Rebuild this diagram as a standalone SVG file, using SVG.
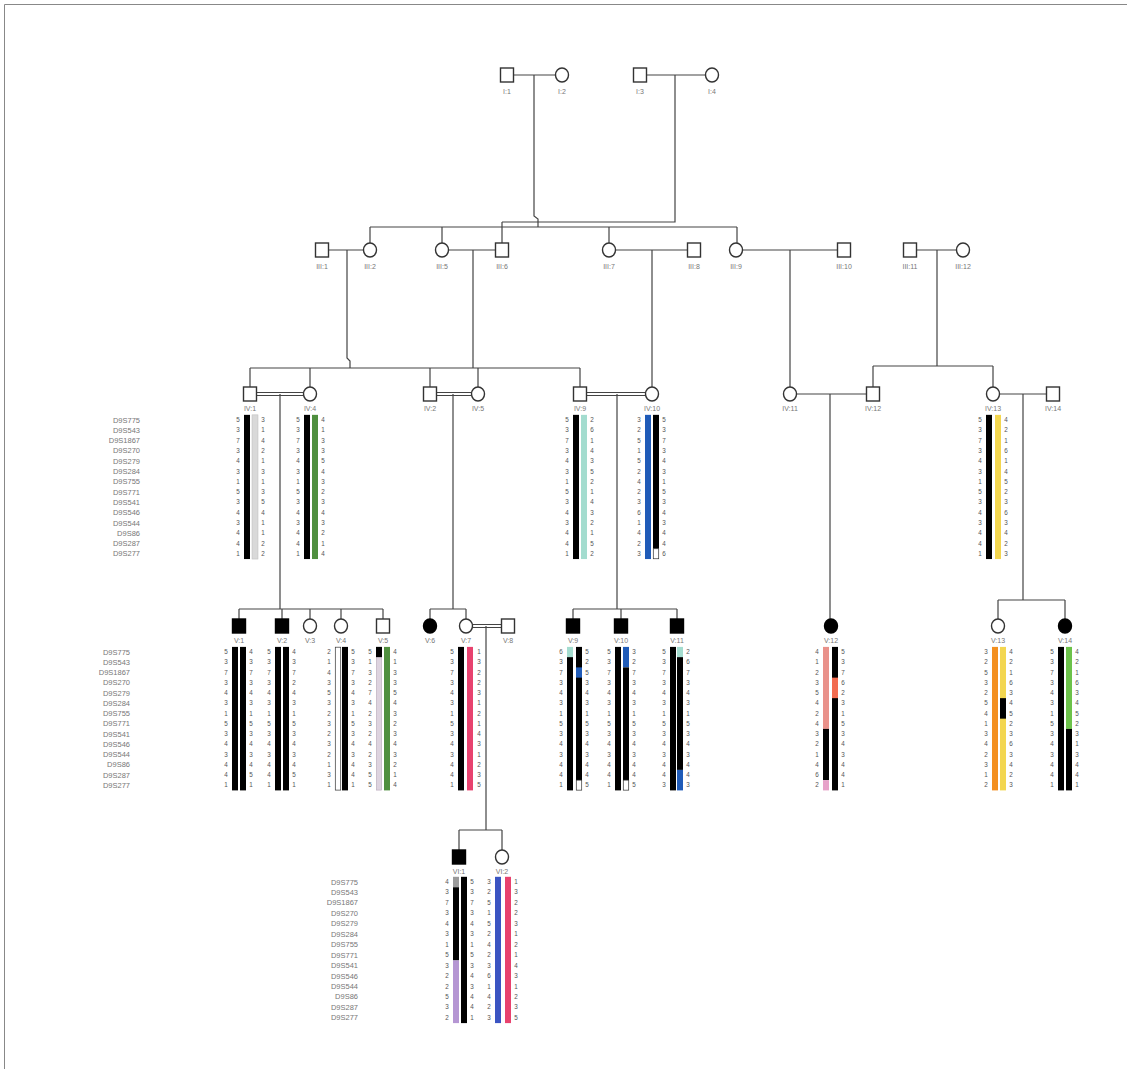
<svg xmlns="http://www.w3.org/2000/svg" width="1131" height="1073" viewBox="0 0 1131 1073">
<style>
.ln{stroke:#444;stroke-width:1.2;fill:none}
.fr{stroke:#888;stroke-width:1;fill:none}
.sym{fill:#fff;stroke:#333;stroke-width:1.4}
.aff{fill:#000;stroke:#000;stroke-width:1.4}
.lb{font-family:"Liberation Sans",Arial,sans-serif;font-size:7px;fill:#777;text-anchor:middle}
.n{font-family:"Liberation Sans",Arial,sans-serif;font-size:6.3px;fill:#555;text-anchor:middle}
.mk{font-family:"Liberation Sans",Arial,sans-serif;font-size:7.5px;fill:#777;text-anchor:end}
.k{fill:#000}
.gy{fill:#d9d9d9;stroke:#bbb;stroke-width:0.5}
.gn{fill:#4f8f3f}
.cy{fill:#a3dccf}
.bl{fill:#1f5bb8}
.yl{fill:#f3d64f}
.wh{fill:#fff;stroke:#333;stroke-width:0.7}
.pk{fill:#e8426e}
.sa{fill:#e9918a}
.or{fill:#f39021}
.lg{fill:#6cc24a}
.lv{fill:#ddd3df;stroke:#b9aabb;stroke-width:0.6}
.pu{fill:#b596d3}
.lp{fill:#e7a2c9}
.so{fill:#f26b4f}
.gr{fill:#9a9a9a}
.bv{fill:#3a54c2}
</style>
<path class="fr" d="M4.5 1069 V4.5 H1127"/>
<g id="connectors">
<path class="ln" d="M513.5 75 H555.5 M646.5 75 H705.5 M534 75 V216 L538 219 V227 M675 75 V222 H502 M370 227 H737 M370 227 V243 M442 227 V243 M502 222 V243 M609 227 V243 M737 227 V243"/>
<path class="ln" d="M328.5 250 H363.5 M347 250 V358 L350 361 V368 M448.5 250 H495.5 M473 250 V368 M615.5 250 H687.5 M652 250 V387 M742.5 250 H837.5 M790 250 V387 M916.5 250 H956.5 M937 250 V366 M873 366 H993 M873 366 V387 M993 366 V387"/>
<path class="ln" d="M250 368 H580 M250 368 V387 M310 368 V387 M430 368 V387 M478 368 V387 M580 368 V387"/>
<path class="ln" d="M256.5 392.5 H303.5 M256.5 395.5 H303.5 M280 394 V609 M436.5 392.5 H471.5 M436.5 395.5 H471.5 M453 394 V609 M586.5 392.5 H645.5 M586.5 395.5 H645.5 M617 394 V609 M796.5 394 H866.5 M830 394 V619 M999.5 394 H1046.5 M1023 394 V600 M998 600 H1065 M998 600 V619 M1065 600 V619"/>
<path class="ln" d="M239 609 H383 M239 609 V619 M282 609 V619 M310 609 V619 M341 609 V619 M383 609 V619 M430 609 H466 M430 609 V619 M466 609 V619 M573 609 H677 M573 609 V619 M621 609 V619 M677 609 V619"/>
<path class="ln" d="M472.5 624.5 H501.5 M472.5 627.5 H501.5 M486 626 V830 M459 830 H502 M459 830 V850 M502 830 V850"/>
</g>
<!-- Generation I -->
<g id="I1"><rect class="sym" x="500.5" y="68" width="13" height="14"/><text class="lb" x="507" y="94">I:1</text></g>
<g id="I2"><ellipse class="sym" cx="562" cy="75" rx="6.5" ry="7"/><text class="lb" x="562" y="94">I:2</text></g>
<g id="I3"><rect class="sym" x="633.5" y="68" width="13" height="14"/><text class="lb" x="640" y="94">I:3</text></g>
<g id="I4"><ellipse class="sym" cx="712" cy="75" rx="6.5" ry="7"/><text class="lb" x="712" y="94">I:4</text></g>
<!-- Generation III -->
<g id="III1"><rect class="sym" x="315.5" y="243" width="13" height="14"/><text class="lb" x="322" y="269">III:1</text></g>
<g id="III2"><ellipse class="sym" cx="370" cy="250" rx="6.5" ry="7"/><text class="lb" x="370" y="269">III:2</text></g>
<g id="III5"><ellipse class="sym" cx="442" cy="250" rx="6.5" ry="7"/><text class="lb" x="442" y="269">III:5</text></g>
<g id="III6"><rect class="sym" x="495.5" y="243" width="13" height="14"/><text class="lb" x="502" y="269">III:6</text></g>
<g id="III7"><ellipse class="sym" cx="609" cy="250" rx="6.5" ry="7"/><text class="lb" x="609" y="269">III:7</text></g>
<g id="III8"><rect class="sym" x="687.5" y="243" width="13" height="14"/><text class="lb" x="694" y="269">III:8</text></g>
<g id="III9"><ellipse class="sym" cx="736" cy="250" rx="6.5" ry="7"/><text class="lb" x="736" y="269">III:9</text></g>
<g id="III10"><rect class="sym" x="837.5" y="243" width="13" height="14"/><text class="lb" x="844" y="269">III:10</text></g>
<g id="III11"><rect class="sym" x="903.5" y="243" width="13" height="14"/><text class="lb" x="910" y="269">III:11</text></g>
<g id="III12"><ellipse class="sym" cx="963" cy="250" rx="6.5" ry="7"/><text class="lb" x="963" y="269">III:12</text></g>
<!-- Generation IV markers -->
<g id="markersIV"><text class="mk"><tspan x="140" y="422.5">D9S775</tspan><tspan x="140" y="432.8">D9S543</tspan><tspan x="140" y="443.1">D9S1867</tspan><tspan x="140" y="453.4">D9S270</tspan><tspan x="140" y="463.7">D9S279</tspan><tspan x="140" y="474">D9S284</tspan><tspan x="140" y="484.3">D9S755</tspan><tspan x="140" y="494.6">D9S771</tspan><tspan x="140" y="504.9">D9S541</tspan><tspan x="140" y="515.2">D9S546</tspan><tspan x="140" y="525.5">D9S544</tspan><tspan x="140" y="535.8">D9S86</tspan><tspan x="140" y="546.1">D9S287</tspan><tspan x="140" y="556.4">D9S277</tspan></text></g>
<!-- Generation IV -->
<g id="IV1"><rect class="sym" x="243.5" y="387" width="13" height="14"/><text class="lb" x="250" y="411">IV:1</text>
<rect class="k" x="244" y="414.85" width="6" height="144.2"/><rect class="gy" x="252" y="414.85" width="6" height="144.2"/>
<text class="n" x="238 238 238 238 238 238 238 238 238 238 238 238 238 238" y="422 432.3 442.6 452.9 463.2 473.5 483.8 494.1 504.4 514.7 525 535.3 545.6 555.9">53734315343441</text>
<text class="n" x="263 263 263 263 263 263 263 263 263 263 263 263 263 263" y="422 432.3 442.6 452.9 463.2 473.5 483.8 494.1 504.4 514.7 525 535.3 545.6 555.9">31421313541122</text></g>
<g id="IV4"><ellipse class="sym" cx="310" cy="394" rx="6.5" ry="7"/><text class="lb" x="310" y="411">IV:4</text>
<rect class="k" x="304" y="414.85" width="6" height="144.2"/><rect class="gn" x="312" y="414.85" width="6" height="144.2"/>
<text class="n" x="298 298 298 298 298 298 298 298 298 298 298 298 298 298" y="422 432.3 442.6 452.9 463.2 473.5 483.8 494.1 504.4 514.7 525 535.3 545.6 555.9">53734315343441</text>
<text class="n" x="323 323 323 323 323 323 323 323 323 323 323 323 323 323" y="422 432.3 442.6 452.9 463.2 473.5 483.8 494.1 504.4 514.7 525 535.3 545.6 555.9">41335432343214</text></g>
<g id="IV2"><rect class="sym" x="423.5" y="387" width="13" height="14"/><text class="lb" x="430" y="411">IV:2</text></g>
<g id="IV5"><ellipse class="sym" cx="478" cy="394" rx="6.5" ry="7"/><text class="lb" x="478" y="411">IV:5</text></g>
<g id="IV9"><rect class="sym" x="573.5" y="387" width="13" height="14"/><text class="lb" x="580" y="411">IV:9</text>
<rect class="k" x="573" y="414.85" width="6" height="144.2"/><rect class="cy" x="581" y="414.85" width="6" height="144.2"/>
<text class="n" x="567 567 567 567 567 567 567 567 567 567 567 567 567 567" y="422 432.3 442.6 452.9 463.2 473.5 483.8 494.1 504.4 514.7 525 535.3 545.6 555.9">53734315343441</text>
<text class="n" x="592 592 592 592 592 592 592 592 592 592 592 592 592 592" y="422 432.3 442.6 452.9 463.2 473.5 483.8 494.1 504.4 514.7 525 535.3 545.6 555.9">26143521432152</text></g>
<g id="IV10"><ellipse class="sym" cx="652" cy="394" rx="6.5" ry="7"/><text class="lb" x="652" y="411">IV:10</text>
<rect class="bl" x="645" y="414.85" width="6" height="144.2"/><rect class="k" x="653" y="414.85" width="6" height="133.9"/><rect class="wh" x="653.3" y="548.75" width="5.4" height="10"/>
<text class="n" x="639 639 639 639 639 639 639 639 639 639 639 639 639 639" y="422 432.3 442.6 452.9 463.2 473.5 483.8 494.1 504.4 514.7 525 535.3 545.6 555.9">32515242361423</text>
<text class="n" x="664 664 664 664 664 664 664 664 664 664 664 664 664 664" y="422 432.3 442.6 452.9 463.2 473.5 483.8 494.1 504.4 514.7 525 535.3 545.6 555.9">53734315343446</text></g>
<g id="IV11"><ellipse class="sym" cx="790" cy="394" rx="6.5" ry="7"/><text class="lb" x="790" y="411">IV:11</text></g>
<g id="IV12"><rect class="sym" x="866.5" y="387" width="13" height="14"/><text class="lb" x="873" y="411">IV:12</text></g>
<g id="IV13"><ellipse class="sym" cx="993" cy="394" rx="6.5" ry="7"/><text class="lb" x="993" y="411">IV:13</text>
<rect class="k" x="986" y="414.85" width="6" height="144.2"/><rect class="yl" x="995" y="414.85" width="6" height="144.2"/>
<text class="n" x="980 980 980 980 980 980 980 980 980 980 980 980 980 980" y="422 432.3 442.6 452.9 463.2 473.5 483.8 494.1 504.4 514.7 525 535.3 545.6 555.9">53734315343441</text>
<text class="n" x="1006 1006 1006 1006 1006 1006 1006 1006 1006 1006 1006 1006 1006 1006" y="422 432.3 442.6 452.9 463.2 473.5 483.8 494.1 504.4 514.7 525 535.3 545.6 555.9">42161452363423</text></g>
<g id="IV14"><rect class="sym" x="1046.5" y="387" width="13" height="14"/><text class="lb" x="1053" y="411">IV:14</text></g>
<!-- Generation V markers -->
<g id="markersV"><text class="mk"><tspan x="130" y="654.5">D9S775</tspan><tspan x="130" y="664.75">D9S543</tspan><tspan x="130" y="675">D9S1867</tspan><tspan x="130" y="685.25">D9S270</tspan><tspan x="130" y="695.5">D9S279</tspan><tspan x="130" y="705.75">D9S284</tspan><tspan x="130" y="716">D9S755</tspan><tspan x="130" y="726.25">D9S771</tspan><tspan x="130" y="736.5">D9S541</tspan><tspan x="130" y="746.75">D9S546</tspan><tspan x="130" y="757">D9S544</tspan><tspan x="130" y="767.25">D9S86</tspan><tspan x="130" y="777.5">D9S287</tspan><tspan x="130" y="787.75">D9S277</tspan></text></g>
<!-- Generation V -->
<g id="V1"><rect class="aff" x="232.5" y="619" width="13" height="14"/><text class="lb" x="239" y="643">V:1</text>
<rect class="k" x="232" y="646.9" width="6" height="143.5"/><rect class="k" x="240" y="646.9" width="6" height="143.5"/>
<text class="n" x="226 226 226 226 226 226 226 226 226 226 226 226 226 226" y="654 664.25 674.5 684.75 695 705.25 715.5 725.75 736 746.25 756.5 766.75 777 787.25">53734315343441</text>
<text class="n" x="251 251 251 251 251 251 251 251 251 251 251 251 251 251" y="654 664.25 674.5 684.75 695 705.25 715.5 725.75 736 746.25 756.5 766.75 777 787.25">43734315343451</text></g>
<g id="V2"><rect class="aff" x="275.5" y="619" width="13" height="14"/><text class="lb" x="282" y="643">V:2</text>
<rect class="k" x="275" y="646.9" width="6" height="143.5"/><rect class="k" x="283" y="646.9" width="6" height="143.5"/>
<text class="n" x="269 269 269 269 269 269 269 269 269 269 269 269 269 269" y="654 664.25 674.5 684.75 695 705.25 715.5 725.75 736 746.25 756.5 766.75 777 787.25">53734315343441</text>
<text class="n" x="294 294 294 294 294 294 294 294 294 294 294 294 294 294" y="654 664.25 674.5 684.75 695 705.25 715.5 725.75 736 746.25 756.5 766.75 777 787.25">43724315343451</text></g>
<g id="V3"><ellipse class="sym" cx="310" cy="626" rx="6.5" ry="7"/><text class="lb" x="310" y="643">V:3</text></g>
<g id="V4"><ellipse class="sym" cx="341" cy="626" rx="6.5" ry="7"/><text class="lb" x="341" y="643">V:4</text>
<rect class="wh" x="335.3" y="647.2" width="5.4" height="142.9"/><rect class="k" x="342" y="646.9" width="6" height="143.5"/>
<text class="n" x="329 329 329 329 329 329 329 329 329 329 329 329 329 329" y="654 664.25 674.5 684.75 695 705.25 715.5 725.75 736 746.25 756.5 766.75 777 787.25">21435323232131</text>
<text class="n" x="353 353 353 353 353 353 353 353 353 353 353 353 353 353" y="654 664.25 674.5 684.75 695 705.25 715.5 725.75 736 746.25 756.5 766.75 777 787.25">53734315343441</text></g>
<g id="V5"><rect class="sym" x="376.5" y="619" width="13" height="14"/><text class="lb" x="383" y="643">V:5</text>
<rect class="lv" x="376.3" y="647.2" width="5.4" height="142.9"/><rect class="k" x="376" y="646.9" width="6" height="10.25"/><rect class="gn" x="384" y="646.9" width="6" height="143.5"/>
<text class="n" x="370 370 370 370 370 370 370 370 370 370 370 370 370 370" y="654 664.25 674.5 684.75 695 705.25 715.5 725.75 736 746.25 756.5 766.75 777 787.25">51327423242355</text>
<text class="n" x="395 395 395 395 395 395 395 395 395 395 395 395 395 395" y="654 664.25 674.5 684.75 695 705.25 715.5 725.75 736 746.25 756.5 766.75 777 787.25">41335432343214</text></g>
<g id="V6"><ellipse class="aff" cx="430" cy="626" rx="6.5" ry="7"/><text class="lb" x="430" y="643">V:6</text></g>
<g id="V7"><ellipse class="sym" cx="466" cy="626" rx="6.5" ry="7"/><text class="lb" x="466" y="643">V:7</text>
<rect class="k" x="458" y="646.9" width="6" height="143.5"/><rect class="pk" x="467" y="646.9" width="6" height="143.5"/>
<text class="n" x="452 452 452 452 452 452 452 452 452 452 452 452 452 452" y="654 664.25 674.5 684.75 695 705.25 715.5 725.75 736 746.25 756.5 766.75 777 787.25">53734315343441</text>
<text class="n" x="479 479 479 479 479 479 479 479 479 479 479 479 479 479" y="654 664.25 674.5 684.75 695 705.25 715.5 725.75 736 746.25 756.5 766.75 777 787.25">13223121431235</text></g>
<g id="V8"><rect class="sym" x="501.5" y="619" width="13" height="14"/><text class="lb" x="508" y="643">V:8</text></g>
<g id="V9"><rect class="aff" x="566.5" y="619" width="13" height="14"/><text class="lb" x="573" y="643">V:9</text>
<rect class="cy" x="567" y="646.9" width="6" height="10.25"/><rect class="k" x="567" y="657.15" width="6" height="133.25"/>
<rect class="k" x="576" y="646.9" width="6" height="133.25"/><rect class="bl" x="576" y="667.4" width="6" height="10.25"/><rect class="wh" x="576.3" y="780.15" width="5.4" height="10"/>
<text class="n" x="561 561 561 561 561 561 561 561 561 561 561 561 561 561" y="654 664.25 674.5 684.75 695 705.25 715.5 725.75 736 746.25 756.5 766.75 777 787.25">63734315343441</text>
<text class="n" x="587 587 587 587 587 587 587 587 587 587 587 587 587 587" y="654 664.25 674.5 684.75 695 705.25 715.5 725.75 736 746.25 756.5 766.75 777 787.25">52534315343445</text></g>
<g id="V10"><rect class="aff" x="614.5" y="619" width="13" height="14"/><text class="lb" x="621" y="643">V:10</text>
<rect class="k" x="615" y="646.9" width="6" height="143.5"/>
<rect class="bl" x="623" y="646.9" width="6" height="20.5"/><rect class="k" x="623" y="667.4" width="6" height="112.75"/><rect class="wh" x="623.3" y="780.15" width="5.4" height="10"/>
<text class="n" x="609 609 609 609 609 609 609 609 609 609 609 609 609 609" y="654 664.25 674.5 684.75 695 705.25 715.5 725.75 736 746.25 756.5 766.75 777 787.25">53734315343441</text>
<text class="n" x="634 634 634 634 634 634 634 634 634 634 634 634 634 634" y="654 664.25 674.5 684.75 695 705.25 715.5 725.75 736 746.25 756.5 766.75 777 787.25">32734315343445</text></g>
<g id="V11"><rect class="aff" x="670.5" y="619" width="13" height="14"/><text class="lb" x="677" y="643">V:11</text>
<rect class="k" x="670" y="646.9" width="6" height="143.5"/>
<rect class="cy" x="677" y="646.9" width="6" height="10.25"/><rect class="k" x="677" y="657.15" width="6" height="112.75"/><rect class="bl" x="677" y="769.9" width="6" height="20.5"/>
<text class="n" x="664 664 664 664 664 664 664 664 664 664 664 664 664 664" y="654 664.25 674.5 684.75 695 705.25 715.5 725.75 736 746.25 756.5 766.75 777 787.25">53734315343443</text>
<text class="n" x="688 688 688 688 688 688 688 688 688 688 688 688 688 688" y="654 664.25 674.5 684.75 695 705.25 715.5 725.75 736 746.25 756.5 766.75 777 787.25">26734315343443</text></g>
<g id="V12"><ellipse class="aff" cx="831" cy="626" rx="6.5" ry="7"/><text class="lb" x="831" y="643">V:12</text>
<rect class="sa" x="823" y="646.9" width="6" height="82"/><rect class="k" x="823" y="728.9" width="6" height="51.25"/><rect class="lp" x="823" y="780.15" width="6" height="10.25"/>
<rect class="k" x="832" y="646.9" width="6" height="143.5"/><rect class="so" x="832" y="677.65" width="6" height="20.5"/>
<text class="n" x="817 817 817 817 817 817 817 817 817 817 817 817 817 817" y="654 664.25 674.5 684.75 695 705.25 715.5 725.75 736 746.25 756.5 766.75 777 787.25">41235424321462</text>
<text class="n" x="843 843 843 843 843 843 843 843 843 843 843 843 843 843" y="654 664.25 674.5 684.75 695 705.25 715.5 725.75 736 746.25 756.5 766.75 777 787.25">53762315343441</text></g>
<g id="V13"><ellipse class="sym" cx="998" cy="626" rx="6.5" ry="7"/><text class="lb" x="998" y="643">V:13</text>
<rect class="or" x="992" y="646.9" width="6" height="143.5"/><rect class="yl" x="1000" y="646.9" width="6" height="143.5"/><rect class="k" x="1000" y="698.15" width="6" height="20.5"/>
<text class="n" x="986 986 986 986 986 986 986 986 986 986 986 986 986 986" y="654 664.25 674.5 684.75 695 705.25 715.5 725.75 736 746.25 756.5 766.75 777 787.25">32532541342312</text>
<text class="n" x="1011 1011 1011 1011 1011 1011 1011 1011 1011 1011 1011 1011 1011 1011" y="654 664.25 674.5 684.75 695 705.25 715.5 725.75 736 746.25 756.5 766.75 777 787.25">42163452363423</text></g>
<g id="V14"><ellipse class="aff" cx="1065" cy="626" rx="6.5" ry="7"/><text class="lb" x="1065" y="643">V:14</text>
<rect class="k" x="1058" y="646.9" width="6" height="143.5"/><rect class="lg" x="1066" y="646.9" width="6" height="82"/><rect class="k" x="1066" y="728.9" width="6" height="61.5"/>
<text class="n" x="1052 1052 1052 1052 1052 1052 1052 1052 1052 1052 1052 1052 1052 1052" y="654 664.25 674.5 684.75 695 705.25 715.5 725.75 736 746.25 756.5 766.75 777 787.25">53734315343441</text>
<text class="n" x="1077 1077 1077 1077 1077 1077 1077 1077 1077 1077 1077 1077 1077 1077" y="654 664.25 674.5 684.75 695 705.25 715.5 725.75 736 746.25 756.5 766.75 777 787.25">42163452313441</text></g>
<!-- Generation VI markers -->
<g id="markersVI"><text class="mk"><tspan x="358" y="884.5">D9S775</tspan><tspan x="358" y="894.95">D9S543</tspan><tspan x="358" y="905.4">D9S1867</tspan><tspan x="358" y="915.85">D9S270</tspan><tspan x="358" y="926.3">D9S279</tspan><tspan x="358" y="936.75">D9S284</tspan><tspan x="358" y="947.2">D9S755</tspan><tspan x="358" y="957.65">D9S771</tspan><tspan x="358" y="968.1">D9S541</tspan><tspan x="358" y="978.55">D9S546</tspan><tspan x="358" y="989">D9S544</tspan><tspan x="358" y="999.45">D9S86</tspan><tspan x="358" y="1009.9">D9S287</tspan><tspan x="358" y="1020.35">D9S277</tspan></text></g>
<!-- Generation VI -->
<g id="VI1"><rect class="aff" x="452.5" y="850" width="13" height="14"/><text class="lb" x="459" y="874">VI:1</text>
<rect class="gr" x="453" y="876.8" width="6" height="10.45"/><rect class="k" x="453" y="887.25" width="6" height="73.15"/><rect class="pu" x="453" y="960.4" width="6" height="62.7"/>
<rect class="k" x="461" y="876.8" width="6" height="146.3"/>
<text class="n" x="447 447 447 447 447 447 447 447 447 447 447 447 447 447" y="884 894.45 904.9 915.35 925.8 936.25 946.7 957.15 967.6 978.05 988.5 998.95 1009.4 1019.85">43734315322532</text>
<text class="n" x="472 472 472 472 472 472 472 472 472 472 472 472 472 472" y="884 894.45 904.9 915.35 925.8 936.25 946.7 957.15 967.6 978.05 988.5 998.95 1009.4 1019.85">53734315343441</text></g>
<g id="VI2"><ellipse class="sym" cx="502" cy="857" rx="6.5" ry="7"/><text class="lb" x="502" y="874">VI:2</text>
<rect class="bv" x="495" y="876.8" width="6" height="146.3"/><rect class="pk" x="505" y="876.8" width="6" height="146.3"/>
<text class="n" x="489 489 489 489 489 489 489 489 489 489 489 489 489 489" y="884 894.45 904.9 915.35 925.8 936.25 946.7 957.15 967.6 978.05 988.5 998.95 1009.4 1019.85">32515242361423</text>
<text class="n" x="516 516 516 516 516 516 516 516 516 516 516 516 516 516" y="884 894.45 904.9 915.35 925.8 936.25 946.7 957.15 967.6 978.05 988.5 998.95 1009.4 1019.85">13223121431235</text></g>
</svg>
